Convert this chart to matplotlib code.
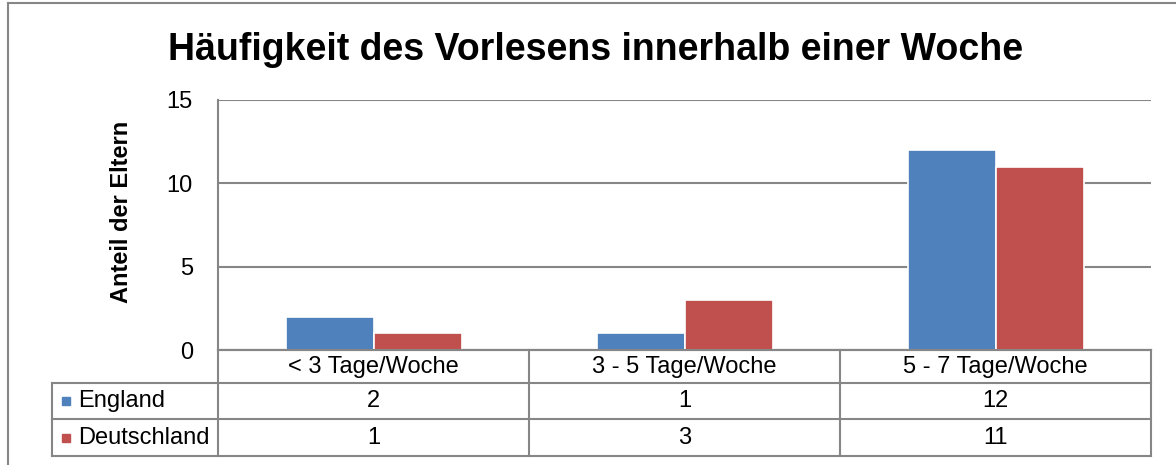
import numpy as np
import matplotlib
matplotlib.use("Agg")
import matplotlib.pyplot as plt
from matplotlib.lines import Line2D
from matplotlib.patches import Rectangle

plt.rcParams['font.family'] = ['Liberation Sans', 'DejaVu Sans']

categories = ['< 3 Tage/Woche', '3 - 5 Tage/Woche', '5 - 7 Tage/Woche']
series = ['England', 'Deutschland']
england = [2, 1, 12]
deutschland = [1, 3, 11]
colors = ['#4F81BD', '#C0504D']
grid_col = '#868686'

W, H = 1176, 465


def fx(px):
    return px / W


def fy(py):
    return 1 - py / H


fig = plt.figure(figsize=(W / 100, H / 100), dpi=100)

# outer chart border (cropped on the right and bottom)
fig.add_artist(Line2D([fx(8), fx(8)], [fy(3), 0], color=grid_col, lw=1.5))
fig.add_artist(Line2D([fx(8), 1], [fy(3), fy(3)], color=grid_col, lw=1.5))

fig.text(fx(596), fy(60), 'Häufigkeit des Vorlesens innerhalb einer Woche',
         ha='center', va='baseline', fontsize=27, fontweight='bold')

ax = fig.add_axes([fx(218), fy(350), fx(1151) - fx(218), (350 - 100) / H])
x = np.arange(len(categories)) + 0.5
bw = 88 / 311
for vals, col, off in [(england, colors[0], -bw / 2), (deutschland, colors[1], bw / 2)]:
    ax.bar(x + off, vals, width=bw, color=col, edgecolor='white', linewidth=1.2, zorder=3)

ax.set_xlim(0, 3)
ax.set_ylim(0, 15)
ax.set_yticks([0, 5, 10, 15])
ax.set_xticks([])
ax.tick_params(axis='y', length=0, pad=18, labelsize=17)
ax.grid(axis='y', color=grid_col, lw=1.5, zorder=0)
for s in ['top', 'right']:
    ax.spines[s].set_visible(False)
for s in ['left', 'bottom']:
    ax.spines[s].set_color(grid_col)
    ax.spines[s].set_linewidth(1.5)

fig.text(fx(121), fy(212), 'Anteil der Eltern', rotation=90, ha='center',
         va='center', fontsize=17, fontweight='bold')

# data table below the plot
rows = [350, 383, 419, 456]
col_edges = [218, 529, 840, 1151]
tkw = dict(color=grid_col, lw=1.5)
for y in rows:
    x0 = 218 if y == 350 else 52
    fig.add_artist(Line2D([fx(x0), fx(1151)], [fy(y), fy(y)], **tkw))
for xe in col_edges:
    fig.add_artist(Line2D([fx(xe), fx(xe)], [fy(350), fy(456)], **tkw))
fig.add_artist(Line2D([fx(52), fx(52)], [fy(383), fy(456)], **tkw))

for i, c in enumerate(categories):
    cx = (col_edges[i] + col_edges[i + 1]) / 2
    fig.text(fx(cx), fy(367), c, ha='center', va='center', fontsize=17)

for r, (name, vals, col) in enumerate(zip(series, [england, deutschland], colors)):
    cy = (rows[r + 1] + rows[r + 2]) / 2
    fig.add_artist(Rectangle((fx(62), fy(cy + 4)), 8 / W, 8 / H, color=col,
                             transform=fig.transFigure))
    fig.text(fx(78), fy(cy), name, ha='left', va='center', fontsize=17)
    for i, v in enumerate(vals):
        cx = (col_edges[i] + col_edges[i + 1]) / 2
        fig.text(fx(cx), fy(cy), str(v), ha='center', va='center', fontsize=17)

fig.savefig('out.png', dpi=100)
